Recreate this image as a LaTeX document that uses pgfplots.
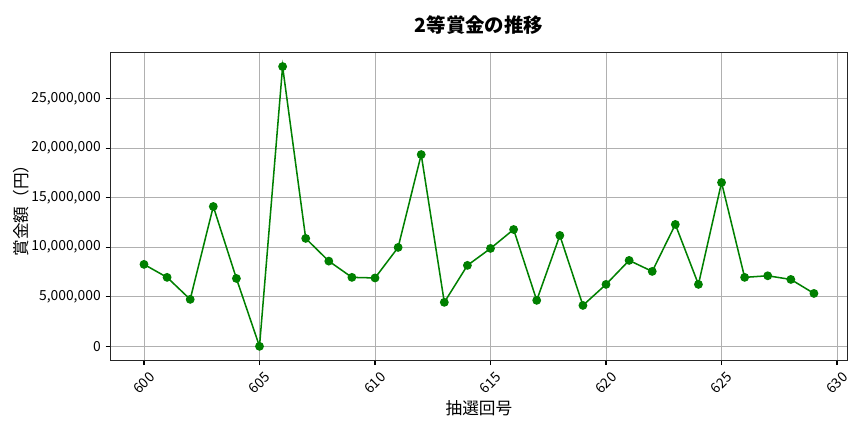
\documentclass[border=0pt]{standalone}
\usepackage{pgfplots}
\pgfplotsset{compat=1.18}
\usepackage{fontspec}
\setmainfont{Noto Sans CJK JP}
\definecolor{mplgreen}{HTML}{008000}
\begin{document}
\begin{tikzpicture}
\useasboundingbox (-79.56pt,-51.6pt) rectangle (542.52pt,259.44pt);
\begin{axis}[
  at={(0,0)}, anchor=south west, scale only axis,
  width=530.6pt, height=221.6pt,
  xmin=598.55, xmax=630.45, ymin=-1411500, ymax=29641500,
  xtick={600,605,...,630}, ytick={0,5000000,10000000,15000000,20000000,25000000},
  grid=major, grid style={color=black!31, line width=0.6pt},
  axis line style={line width=0.8pt, black!85},
  tick align=outside, tick pos=left, major tick length=3.5pt,
  every tick/.style={black, line width=0.8pt},
  scaled y ticks=false,
  /pgf/number format/assume math mode=true,
  yticklabel style={/pgf/number format/fixed, /pgf/number format/1000 sep={,}, /pgf/number format/precision=0},
  ticklabel style={font=\fontsize{10}{12}\selectfont},
  xticklabel style={rotate=45, anchor=center, xshift=-8.98pt, yshift=-8.98pt},
  xlabel={抽選回号}, ylabel={賞金額（円）},
  label style={font=\fontsize{12}{14}\selectfont},
  xlabel style={at={(axis description cs:0.5,0)}, anchor=center, yshift=-34.8pt},
  ylabel style={at={(axis description cs:0,0.5)}, anchor=center, yshift=64.6pt},
  title={2等賞金の推移},
  title style={at={(axis description cs:0.5,1)}, anchor=center, yshift=13.8pt, font=\bfseries\fontsize{14}{17}\selectfont},
]
\addplot[color=mplgreen, line width=1.1pt, mark=*, mark size=2.6pt, mark options={fill=mplgreen, draw=mplgreen}] coordinates {
(600,8270000) (601,6960000) (602,4740000) (603,14110000) (604,6850000)
(605,0) (606,28230000) (607,10890000) (608,8600000) (609,6960000)
(610,6900000) (611,9980000) (612,19350000) (613,4440000) (614,8170000)
(615,9880000) (616,11790000) (617,4640000) (618,11190000) (619,4130000)
(620,6250000) (621,8670000) (622,7560000) (623,12300000) (624,6250000)
(625,16530000) (626,6960000) (627,7120000) (628,6750000) (629,5340000)
};
\end{axis}
\end{tikzpicture}
\end{document}
